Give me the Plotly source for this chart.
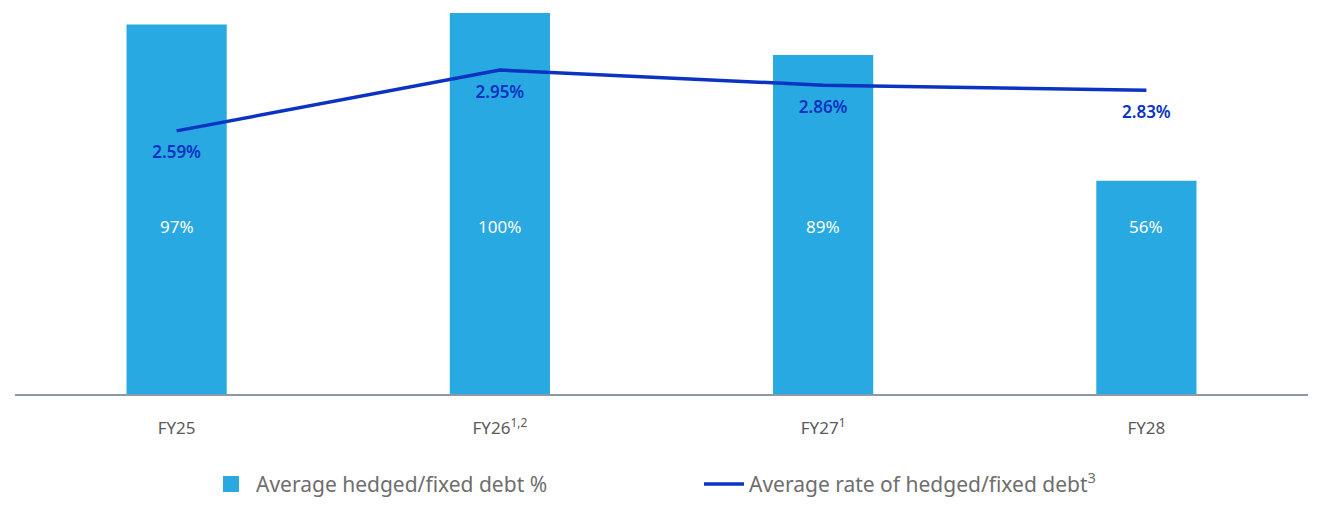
import plotly.graph_objects as go

categories = ["FY25", "FY26<sup>1,2</sup>", "FY27<sup>1</sup>", "FY28"]
hedged_pct = [97, 100, 89, 56]
avg_rate = [2.59, 2.95, 2.86, 2.83]

BAR_COLOR = "#29a9e1"
LINE_COLOR = "#0a33c2"
FONT = "'Noto Sans', Lato, sans-serif"
LABEL_LEVEL = 44  # bar labels all sit at the same height

fig = go.Figure()

fig.add_trace(go.Bar(
    x=categories, y=hedged_pct,
    name="Average hedged/fixed debt %",
    marker=dict(color=BAR_COLOR, line=dict(width=0)),
    width=0.31,
    showlegend=False,
    hoverinfo="skip",
))

# legend entry only, so the swatch can be a bigger square than the bar default
fig.add_trace(go.Scatter(
    x=[None], y=[None],
    name="Average hedged/fixed debt %",
    mode="markers",
    marker=dict(symbol="square", size=20, color=BAR_COLOR),
))

fig.add_trace(go.Scatter(
    x=categories, y=avg_rate,
    name="Average rate of hedged/fixed debt<sup>3</sup>",
    mode="lines+markers+text",
    line=dict(color=LINE_COLOR, width=3.5),
    marker=dict(size=22, color="rgba(0,0,0,0)"),
    text=[f"{v:.2f}%" for v in avg_rate],
    textposition="bottom center",
    textfont=dict(family=FONT, size=17, color=LINE_COLOR, weight=600),
    yaxis="y2",
    hoverinfo="skip",
))

for c, v in zip(categories, hedged_pct):
    fig.add_annotation(
        x=c, y=LABEL_LEVEL, xref="x", yref="y",
        text=f"{v}%", showarrow=False,
        font=dict(family=FONT, size=17, color="white"),
    )

# page body has an 8px margin, so the figure is sized to fit inside it
fig.update_layout(
    width=1303, height=491,
    margin=dict(l=7, r=3, t=2, b=105, autoexpand=False),
    paper_bgcolor="white", plot_bgcolor="white",
    font=dict(family=FONT),
    showlegend=True,
    legend=dict(
        orientation="h", x=0.529, xanchor="center", y=-0.235, yanchor="middle",
        font=dict(size=21, color="#6e6e6e"),
        entrywidth=438, itemwidth=40, itemsizing="trace",
    ),
    xaxis=dict(
        range=[-0.5, 3.5], automargin=False,
        showline=True, linecolor="#8c99a6", linewidth=2,
        ticks="", showgrid=False,
        tickfont=dict(size=17, color="#5a5a5a"),
        ticklabelstandoff=18,
    ),
    yaxis=dict(range=[0, 100.8], visible=False, showgrid=False),
    yaxis2=dict(range=[1.033, 3.305], overlaying="y", visible=False, showgrid=False),
)

fig.write_html("out.html")
